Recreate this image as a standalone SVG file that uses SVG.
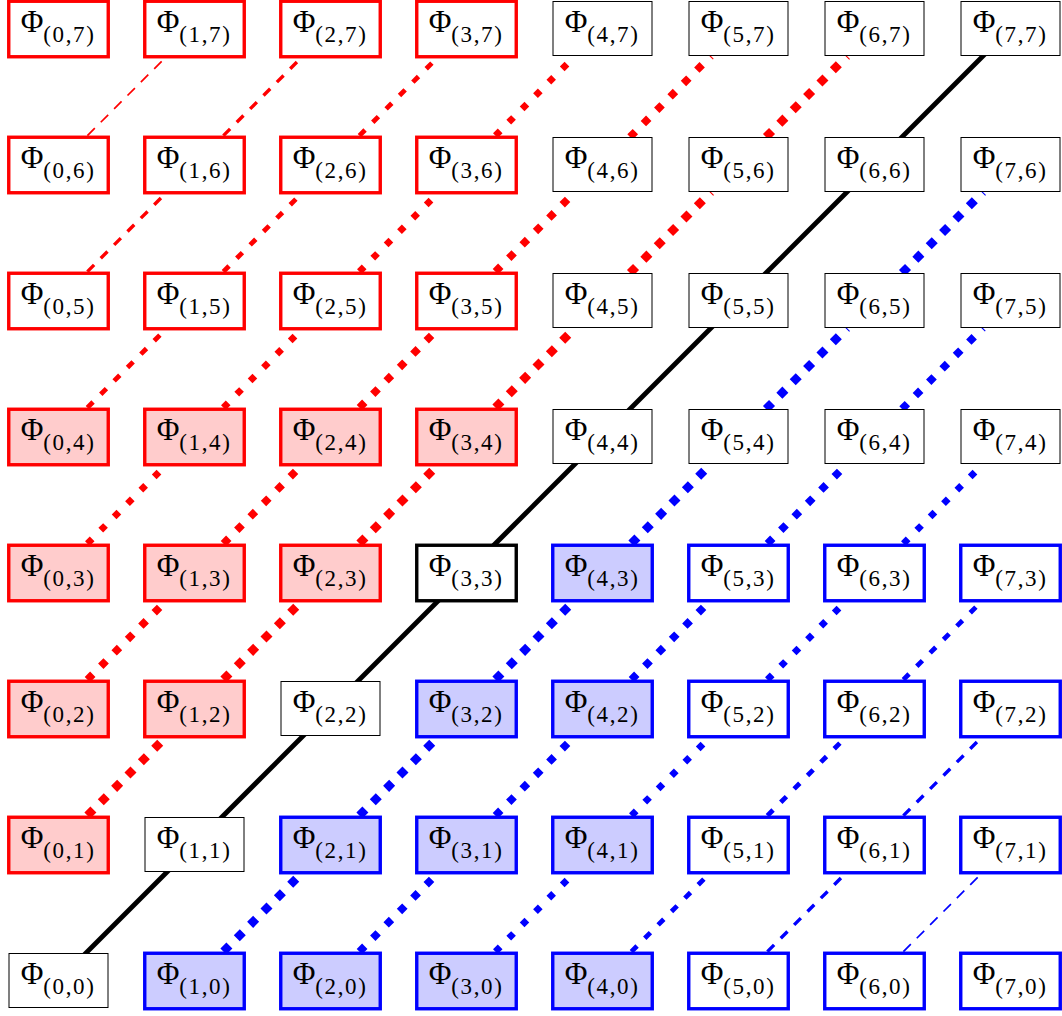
<svg xmlns="http://www.w3.org/2000/svg" width="1062" height="1016" viewBox="0 0 1062 1016">
<style>
.t{fill:#fff;stroke:#000;stroke-width:1}
.k{fill:#fff;stroke:#000;stroke-width:3.4}
.r{fill:#fff;stroke:#f00;stroke-width:3.4}
.rf{fill:#fcc;stroke:#f00;stroke-width:3.4}
.b{fill:#fff;stroke:#00f;stroke-width:3.4}
.bf{fill:#ccf;stroke:#00f;stroke-width:3.4}
text{font-family:"Liberation Serif","DejaVu Serif",serif;fill:#000}
.phi{font-size:31px}
.sub{font-size:23px}
line{fill:none;stroke-linecap:butt}
.c0{stroke:#000;stroke-width:4.8}
.red{stroke:#f00}
.blue{stroke:#00f}
.s1{stroke-width:8.5;stroke-dasharray:8.5 10.4}
.s2{stroke-width:7.6;stroke-dasharray:7.6 11.3}
.s3{stroke-width:6.7;stroke-dasharray:6.7 12.2}
.s4{stroke-width:4.8;stroke-dasharray:8 10.9}
.s5{stroke-width:3.4;stroke-dasharray:9.5 9.4}
.s6{stroke-width:1.7;stroke-dasharray:10.5 8.4}
</style>
<g id="connectors">
<line class="c0" x1="58.5" y1="980.5" x2="194.5" y2="844.5"/>
<line class="c0" x1="194.5" y1="844.5" x2="330.5" y2="708.5"/>
<line class="c0" x1="330.5" y1="708.5" x2="466.5" y2="572.5"/>
<line class="c0" x1="466.5" y1="572.5" x2="602.5" y2="436.5"/>
<line class="c0" x1="602.5" y1="436.5" x2="738.5" y2="300.5"/>
<line class="c0" x1="738.5" y1="300.5" x2="874.5" y2="164.5"/>
<line class="c0" x1="874.5" y1="164.5" x2="1010.5" y2="28.5"/>
<line class="red s1" x1="87.4" y1="815.6" x2="165.6" y2="737.4"/>
<line class="red s1" x1="223.4" y1="679.6" x2="301.6" y2="601.4"/>
<line class="red s1" x1="359.4" y1="543.6" x2="437.6" y2="465.4"/>
<line class="red s1" x1="495.4" y1="407.6" x2="575" y2="328"/>
<line class="red s1" x1="630" y1="273" x2="711" y2="192"/>
<line class="red s1" x1="766" y1="137" x2="847" y2="56"/>
<line class="red s2" x1="87.4" y1="679.6" x2="165.6" y2="601.4"/>
<line class="red s2" x1="223.4" y1="543.6" x2="301.6" y2="465.4"/>
<line class="red s2" x1="359.4" y1="407.6" x2="437.6" y2="329.4"/>
<line class="red s2" x1="495.4" y1="271.6" x2="575" y2="192"/>
<line class="red s2" x1="630" y1="137" x2="711" y2="56"/>
<line class="red s3" x1="87.4" y1="543.6" x2="165.6" y2="465.4"/>
<line class="red s3" x1="223.4" y1="407.6" x2="301.6" y2="329.4"/>
<line class="red s3" x1="359.4" y1="271.6" x2="437.6" y2="193.4"/>
<line class="red s3" x1="495.4" y1="135.6" x2="575" y2="56"/>
<line class="red s4" x1="87.4" y1="407.6" x2="165.6" y2="329.4"/>
<line class="red s4" x1="223.4" y1="271.6" x2="301.6" y2="193.4"/>
<line class="red s4" x1="359.4" y1="135.6" x2="437.6" y2="57.4"/>
<line class="red s5" x1="87.4" y1="271.6" x2="165.6" y2="193.4"/>
<line class="red s5" x1="223.4" y1="135.6" x2="301.6" y2="57.4"/>
<line class="red s6" x1="87.4" y1="135.6" x2="165.6" y2="57.4"/>
<line class="blue s1" x1="223.4" y1="951.6" x2="301.6" y2="873.4"/>
<line class="blue s1" x1="359.4" y1="815.6" x2="437.6" y2="737.4"/>
<line class="blue s1" x1="495.4" y1="679.6" x2="573.6" y2="601.4"/>
<line class="blue s1" x1="631.4" y1="543.6" x2="711" y2="464"/>
<line class="blue s1" x1="766" y1="409" x2="847" y2="328"/>
<line class="blue s1" x1="902" y1="273" x2="983" y2="192"/>
<line class="blue s2" x1="359.4" y1="951.6" x2="437.6" y2="873.4"/>
<line class="blue s2" x1="495.4" y1="815.6" x2="573.6" y2="737.4"/>
<line class="blue s2" x1="631.4" y1="679.6" x2="709.6" y2="601.4"/>
<line class="blue s2" x1="767.4" y1="543.6" x2="847" y2="464"/>
<line class="blue s2" x1="902" y1="409" x2="983" y2="328"/>
<line class="blue s3" x1="495.4" y1="951.6" x2="573.6" y2="873.4"/>
<line class="blue s3" x1="631.4" y1="815.6" x2="709.6" y2="737.4"/>
<line class="blue s3" x1="767.4" y1="679.6" x2="845.6" y2="601.4"/>
<line class="blue s3" x1="903.4" y1="543.6" x2="983" y2="464"/>
<line class="blue s4" x1="631.4" y1="951.6" x2="709.6" y2="873.4"/>
<line class="blue s4" x1="767.4" y1="815.6" x2="845.6" y2="737.4"/>
<line class="blue s4" x1="903.4" y1="679.6" x2="981.6" y2="601.4"/>
<line class="blue s5" x1="767.4" y1="951.6" x2="845.6" y2="873.4"/>
<line class="blue s5" x1="903.4" y1="815.6" x2="981.6" y2="737.4"/>
<line class="blue s6" x1="903.4" y1="951.6" x2="981.6" y2="873.4"/>
</g>
<g id="nodes">
<g id="n0_7" transform="translate(58.5,28.5)"><rect class="r" x="-49.75" y="-27.25" width="99.5" height="55.5"/><text class="phi" x="-37.8" y="3.8">Φ</text><text class="sub" x="-15.2" y="13" textLength="50.5">(0,7)</text></g>
<g id="n1_7" transform="translate(194.5,28.5)"><rect class="r" x="-49.75" y="-27.25" width="99.5" height="55.5"/><text class="phi" x="-37.8" y="3.8">Φ</text><text class="sub" x="-15.2" y="13" textLength="50.5">(1,7)</text></g>
<g id="n2_7" transform="translate(330.5,28.5)"><rect class="r" x="-49.75" y="-27.25" width="99.5" height="55.5"/><text class="phi" x="-37.8" y="3.8">Φ</text><text class="sub" x="-15.2" y="13" textLength="50.5">(2,7)</text></g>
<g id="n3_7" transform="translate(466.5,28.5)"><rect class="r" x="-49.75" y="-27.25" width="99.5" height="55.5"/><text class="phi" x="-37.8" y="3.8">Φ</text><text class="sub" x="-15.2" y="13" textLength="50.5">(3,7)</text></g>
<g id="n4_7" transform="translate(602.5,28.5)"><rect class="t" x="-49.5" y="-27" width="99" height="54"/><text class="phi" x="-37.8" y="3.8">Φ</text><text class="sub" x="-15.2" y="13" textLength="50.5">(4,7)</text></g>
<g id="n5_7" transform="translate(738.5,28.5)"><rect class="t" x="-49.5" y="-27" width="99" height="54"/><text class="phi" x="-37.8" y="3.8">Φ</text><text class="sub" x="-15.2" y="13" textLength="50.5">(5,7)</text></g>
<g id="n6_7" transform="translate(874.5,28.5)"><rect class="t" x="-49.5" y="-27" width="99" height="54"/><text class="phi" x="-37.8" y="3.8">Φ</text><text class="sub" x="-15.2" y="13" textLength="50.5">(6,7)</text></g>
<g id="n7_7" transform="translate(1010.5,28.5)"><rect class="t" x="-49.5" y="-27" width="99" height="54"/><text class="phi" x="-37.8" y="3.8">Φ</text><text class="sub" x="-15.2" y="13" textLength="50.5">(7,7)</text></g>
<g id="n0_6" transform="translate(58.5,164.5)"><rect class="r" x="-49.75" y="-27.25" width="99.5" height="55.5"/><text class="phi" x="-37.8" y="3.8">Φ</text><text class="sub" x="-15.2" y="13" textLength="50.5">(0,6)</text></g>
<g id="n1_6" transform="translate(194.5,164.5)"><rect class="r" x="-49.75" y="-27.25" width="99.5" height="55.5"/><text class="phi" x="-37.8" y="3.8">Φ</text><text class="sub" x="-15.2" y="13" textLength="50.5">(1,6)</text></g>
<g id="n2_6" transform="translate(330.5,164.5)"><rect class="r" x="-49.75" y="-27.25" width="99.5" height="55.5"/><text class="phi" x="-37.8" y="3.8">Φ</text><text class="sub" x="-15.2" y="13" textLength="50.5">(2,6)</text></g>
<g id="n3_6" transform="translate(466.5,164.5)"><rect class="r" x="-49.75" y="-27.25" width="99.5" height="55.5"/><text class="phi" x="-37.8" y="3.8">Φ</text><text class="sub" x="-15.2" y="13" textLength="50.5">(3,6)</text></g>
<g id="n4_6" transform="translate(602.5,164.5)"><rect class="t" x="-49.5" y="-27" width="99" height="54"/><text class="phi" x="-37.8" y="3.8">Φ</text><text class="sub" x="-15.2" y="13" textLength="50.5">(4,6)</text></g>
<g id="n5_6" transform="translate(738.5,164.5)"><rect class="t" x="-49.5" y="-27" width="99" height="54"/><text class="phi" x="-37.8" y="3.8">Φ</text><text class="sub" x="-15.2" y="13" textLength="50.5">(5,6)</text></g>
<g id="n6_6" transform="translate(874.5,164.5)"><rect class="t" x="-49.5" y="-27" width="99" height="54"/><text class="phi" x="-37.8" y="3.8">Φ</text><text class="sub" x="-15.2" y="13" textLength="50.5">(6,6)</text></g>
<g id="n7_6" transform="translate(1010.5,164.5)"><rect class="t" x="-49.5" y="-27" width="99" height="54"/><text class="phi" x="-37.8" y="3.8">Φ</text><text class="sub" x="-15.2" y="13" textLength="50.5">(7,6)</text></g>
<g id="n0_5" transform="translate(58.5,300.5)"><rect class="r" x="-49.75" y="-27.25" width="99.5" height="55.5"/><text class="phi" x="-37.8" y="3.8">Φ</text><text class="sub" x="-15.2" y="13" textLength="50.5">(0,5)</text></g>
<g id="n1_5" transform="translate(194.5,300.5)"><rect class="r" x="-49.75" y="-27.25" width="99.5" height="55.5"/><text class="phi" x="-37.8" y="3.8">Φ</text><text class="sub" x="-15.2" y="13" textLength="50.5">(1,5)</text></g>
<g id="n2_5" transform="translate(330.5,300.5)"><rect class="r" x="-49.75" y="-27.25" width="99.5" height="55.5"/><text class="phi" x="-37.8" y="3.8">Φ</text><text class="sub" x="-15.2" y="13" textLength="50.5">(2,5)</text></g>
<g id="n3_5" transform="translate(466.5,300.5)"><rect class="r" x="-49.75" y="-27.25" width="99.5" height="55.5"/><text class="phi" x="-37.8" y="3.8">Φ</text><text class="sub" x="-15.2" y="13" textLength="50.5">(3,5)</text></g>
<g id="n4_5" transform="translate(602.5,300.5)"><rect class="t" x="-49.5" y="-27" width="99" height="54"/><text class="phi" x="-37.8" y="3.8">Φ</text><text class="sub" x="-15.2" y="13" textLength="50.5">(4,5)</text></g>
<g id="n5_5" transform="translate(738.5,300.5)"><rect class="t" x="-49.5" y="-27" width="99" height="54"/><text class="phi" x="-37.8" y="3.8">Φ</text><text class="sub" x="-15.2" y="13" textLength="50.5">(5,5)</text></g>
<g id="n6_5" transform="translate(874.5,300.5)"><rect class="t" x="-49.5" y="-27" width="99" height="54"/><text class="phi" x="-37.8" y="3.8">Φ</text><text class="sub" x="-15.2" y="13" textLength="50.5">(6,5)</text></g>
<g id="n7_5" transform="translate(1010.5,300.5)"><rect class="t" x="-49.5" y="-27" width="99" height="54"/><text class="phi" x="-37.8" y="3.8">Φ</text><text class="sub" x="-15.2" y="13" textLength="50.5">(7,5)</text></g>
<g id="n0_4" transform="translate(58.5,436.5)"><rect class="rf" x="-49.75" y="-27.25" width="99.5" height="55.5"/><text class="phi" x="-37.8" y="3.8">Φ</text><text class="sub" x="-15.2" y="13" textLength="50.5">(0,4)</text></g>
<g id="n1_4" transform="translate(194.5,436.5)"><rect class="rf" x="-49.75" y="-27.25" width="99.5" height="55.5"/><text class="phi" x="-37.8" y="3.8">Φ</text><text class="sub" x="-15.2" y="13" textLength="50.5">(1,4)</text></g>
<g id="n2_4" transform="translate(330.5,436.5)"><rect class="rf" x="-49.75" y="-27.25" width="99.5" height="55.5"/><text class="phi" x="-37.8" y="3.8">Φ</text><text class="sub" x="-15.2" y="13" textLength="50.5">(2,4)</text></g>
<g id="n3_4" transform="translate(466.5,436.5)"><rect class="rf" x="-49.75" y="-27.25" width="99.5" height="55.5"/><text class="phi" x="-37.8" y="3.8">Φ</text><text class="sub" x="-15.2" y="13" textLength="50.5">(3,4)</text></g>
<g id="n4_4" transform="translate(602.5,436.5)"><rect class="t" x="-49.5" y="-27" width="99" height="54"/><text class="phi" x="-37.8" y="3.8">Φ</text><text class="sub" x="-15.2" y="13" textLength="50.5">(4,4)</text></g>
<g id="n5_4" transform="translate(738.5,436.5)"><rect class="t" x="-49.5" y="-27" width="99" height="54"/><text class="phi" x="-37.8" y="3.8">Φ</text><text class="sub" x="-15.2" y="13" textLength="50.5">(5,4)</text></g>
<g id="n6_4" transform="translate(874.5,436.5)"><rect class="t" x="-49.5" y="-27" width="99" height="54"/><text class="phi" x="-37.8" y="3.8">Φ</text><text class="sub" x="-15.2" y="13" textLength="50.5">(6,4)</text></g>
<g id="n7_4" transform="translate(1010.5,436.5)"><rect class="t" x="-49.5" y="-27" width="99" height="54"/><text class="phi" x="-37.8" y="3.8">Φ</text><text class="sub" x="-15.2" y="13" textLength="50.5">(7,4)</text></g>
<g id="n0_3" transform="translate(58.5,572.5)"><rect class="rf" x="-49.75" y="-27.25" width="99.5" height="55.5"/><text class="phi" x="-37.8" y="3.8">Φ</text><text class="sub" x="-15.2" y="13" textLength="50.5">(0,3)</text></g>
<g id="n1_3" transform="translate(194.5,572.5)"><rect class="rf" x="-49.75" y="-27.25" width="99.5" height="55.5"/><text class="phi" x="-37.8" y="3.8">Φ</text><text class="sub" x="-15.2" y="13" textLength="50.5">(1,3)</text></g>
<g id="n2_3" transform="translate(330.5,572.5)"><rect class="rf" x="-49.75" y="-27.25" width="99.5" height="55.5"/><text class="phi" x="-37.8" y="3.8">Φ</text><text class="sub" x="-15.2" y="13" textLength="50.5">(2,3)</text></g>
<g id="n3_3" transform="translate(466.5,572.5)"><rect class="k" x="-49.75" y="-27.25" width="99.5" height="55.5"/><text class="phi" x="-37.8" y="3.8">Φ</text><text class="sub" x="-15.2" y="13" textLength="50.5">(3,3)</text></g>
<g id="n4_3" transform="translate(602.5,572.5)"><rect class="bf" x="-49.75" y="-27.25" width="99.5" height="55.5"/><text class="phi" x="-37.8" y="3.8">Φ</text><text class="sub" x="-15.2" y="13" textLength="50.5">(4,3)</text></g>
<g id="n5_3" transform="translate(738.5,572.5)"><rect class="b" x="-49.75" y="-27.25" width="99.5" height="55.5"/><text class="phi" x="-37.8" y="3.8">Φ</text><text class="sub" x="-15.2" y="13" textLength="50.5">(5,3)</text></g>
<g id="n6_3" transform="translate(874.5,572.5)"><rect class="b" x="-49.75" y="-27.25" width="99.5" height="55.5"/><text class="phi" x="-37.8" y="3.8">Φ</text><text class="sub" x="-15.2" y="13" textLength="50.5">(6,3)</text></g>
<g id="n7_3" transform="translate(1010.5,572.5)"><rect class="b" x="-49.75" y="-27.25" width="99.5" height="55.5"/><text class="phi" x="-37.8" y="3.8">Φ</text><text class="sub" x="-15.2" y="13" textLength="50.5">(7,3)</text></g>
<g id="n0_2" transform="translate(58.5,708.5)"><rect class="rf" x="-49.75" y="-27.25" width="99.5" height="55.5"/><text class="phi" x="-37.8" y="3.8">Φ</text><text class="sub" x="-15.2" y="13" textLength="50.5">(0,2)</text></g>
<g id="n1_2" transform="translate(194.5,708.5)"><rect class="rf" x="-49.75" y="-27.25" width="99.5" height="55.5"/><text class="phi" x="-37.8" y="3.8">Φ</text><text class="sub" x="-15.2" y="13" textLength="50.5">(1,2)</text></g>
<g id="n2_2" transform="translate(330.5,708.5)"><rect class="t" x="-49.5" y="-27" width="99" height="54"/><text class="phi" x="-37.8" y="3.8">Φ</text><text class="sub" x="-15.2" y="13" textLength="50.5">(2,2)</text></g>
<g id="n3_2" transform="translate(466.5,708.5)"><rect class="bf" x="-49.75" y="-27.25" width="99.5" height="55.5"/><text class="phi" x="-37.8" y="3.8">Φ</text><text class="sub" x="-15.2" y="13" textLength="50.5">(3,2)</text></g>
<g id="n4_2" transform="translate(602.5,708.5)"><rect class="bf" x="-49.75" y="-27.25" width="99.5" height="55.5"/><text class="phi" x="-37.8" y="3.8">Φ</text><text class="sub" x="-15.2" y="13" textLength="50.5">(4,2)</text></g>
<g id="n5_2" transform="translate(738.5,708.5)"><rect class="b" x="-49.75" y="-27.25" width="99.5" height="55.5"/><text class="phi" x="-37.8" y="3.8">Φ</text><text class="sub" x="-15.2" y="13" textLength="50.5">(5,2)</text></g>
<g id="n6_2" transform="translate(874.5,708.5)"><rect class="b" x="-49.75" y="-27.25" width="99.5" height="55.5"/><text class="phi" x="-37.8" y="3.8">Φ</text><text class="sub" x="-15.2" y="13" textLength="50.5">(6,2)</text></g>
<g id="n7_2" transform="translate(1010.5,708.5)"><rect class="b" x="-49.75" y="-27.25" width="99.5" height="55.5"/><text class="phi" x="-37.8" y="3.8">Φ</text><text class="sub" x="-15.2" y="13" textLength="50.5">(7,2)</text></g>
<g id="n0_1" transform="translate(58.5,844.5)"><rect class="rf" x="-49.75" y="-27.25" width="99.5" height="55.5"/><text class="phi" x="-37.8" y="3.8">Φ</text><text class="sub" x="-15.2" y="13" textLength="50.5">(0,1)</text></g>
<g id="n1_1" transform="translate(194.5,844.5)"><rect class="t" x="-49.5" y="-27" width="99" height="54"/><text class="phi" x="-37.8" y="3.8">Φ</text><text class="sub" x="-15.2" y="13" textLength="50.5">(1,1)</text></g>
<g id="n2_1" transform="translate(330.5,844.5)"><rect class="bf" x="-49.75" y="-27.25" width="99.5" height="55.5"/><text class="phi" x="-37.8" y="3.8">Φ</text><text class="sub" x="-15.2" y="13" textLength="50.5">(2,1)</text></g>
<g id="n3_1" transform="translate(466.5,844.5)"><rect class="bf" x="-49.75" y="-27.25" width="99.5" height="55.5"/><text class="phi" x="-37.8" y="3.8">Φ</text><text class="sub" x="-15.2" y="13" textLength="50.5">(3,1)</text></g>
<g id="n4_1" transform="translate(602.5,844.5)"><rect class="bf" x="-49.75" y="-27.25" width="99.5" height="55.5"/><text class="phi" x="-37.8" y="3.8">Φ</text><text class="sub" x="-15.2" y="13" textLength="50.5">(4,1)</text></g>
<g id="n5_1" transform="translate(738.5,844.5)"><rect class="b" x="-49.75" y="-27.25" width="99.5" height="55.5"/><text class="phi" x="-37.8" y="3.8">Φ</text><text class="sub" x="-15.2" y="13" textLength="50.5">(5,1)</text></g>
<g id="n6_1" transform="translate(874.5,844.5)"><rect class="b" x="-49.75" y="-27.25" width="99.5" height="55.5"/><text class="phi" x="-37.8" y="3.8">Φ</text><text class="sub" x="-15.2" y="13" textLength="50.5">(6,1)</text></g>
<g id="n7_1" transform="translate(1010.5,844.5)"><rect class="b" x="-49.75" y="-27.25" width="99.5" height="55.5"/><text class="phi" x="-37.8" y="3.8">Φ</text><text class="sub" x="-15.2" y="13" textLength="50.5">(7,1)</text></g>
<g id="n0_0" transform="translate(58.5,980.5)"><rect class="t" x="-49.5" y="-27" width="99" height="54"/><text class="phi" x="-37.8" y="3.8">Φ</text><text class="sub" x="-15.2" y="13" textLength="50.5">(0,0)</text></g>
<g id="n1_0" transform="translate(194.5,980.5)"><rect class="bf" x="-49.75" y="-27.25" width="99.5" height="55.5"/><text class="phi" x="-37.8" y="3.8">Φ</text><text class="sub" x="-15.2" y="13" textLength="50.5">(1,0)</text></g>
<g id="n2_0" transform="translate(330.5,980.5)"><rect class="bf" x="-49.75" y="-27.25" width="99.5" height="55.5"/><text class="phi" x="-37.8" y="3.8">Φ</text><text class="sub" x="-15.2" y="13" textLength="50.5">(2,0)</text></g>
<g id="n3_0" transform="translate(466.5,980.5)"><rect class="bf" x="-49.75" y="-27.25" width="99.5" height="55.5"/><text class="phi" x="-37.8" y="3.8">Φ</text><text class="sub" x="-15.2" y="13" textLength="50.5">(3,0)</text></g>
<g id="n4_0" transform="translate(602.5,980.5)"><rect class="bf" x="-49.75" y="-27.25" width="99.5" height="55.5"/><text class="phi" x="-37.8" y="3.8">Φ</text><text class="sub" x="-15.2" y="13" textLength="50.5">(4,0)</text></g>
<g id="n5_0" transform="translate(738.5,980.5)"><rect class="b" x="-49.75" y="-27.25" width="99.5" height="55.5"/><text class="phi" x="-37.8" y="3.8">Φ</text><text class="sub" x="-15.2" y="13" textLength="50.5">(5,0)</text></g>
<g id="n6_0" transform="translate(874.5,980.5)"><rect class="b" x="-49.75" y="-27.25" width="99.5" height="55.5"/><text class="phi" x="-37.8" y="3.8">Φ</text><text class="sub" x="-15.2" y="13" textLength="50.5">(6,0)</text></g>
<g id="n7_0" transform="translate(1010.5,980.5)"><rect class="b" x="-49.75" y="-27.25" width="99.5" height="55.5"/><text class="phi" x="-37.8" y="3.8">Φ</text><text class="sub" x="-15.2" y="13" textLength="50.5">(7,0)</text></g>
</g>
</svg>
